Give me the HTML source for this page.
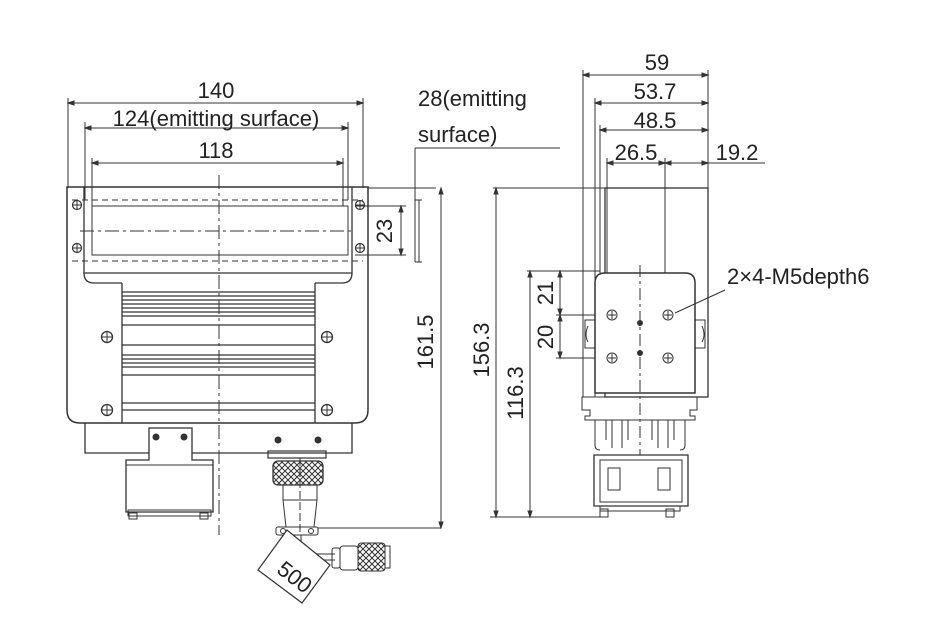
<!DOCTYPE html>
<html><head><meta charset="utf-8"><style>
html,body{margin:0;padding:0;background:#fff;}
svg{display:block}
text{font-family:"Liberation Sans",Arial,sans-serif;fill:#222;}
</style></head><body>
<svg width="948" height="639" viewBox="0 0 948 639" xmlns="http://www.w3.org/2000/svg">
<defs>
<pattern id="kn" width="6" height="6" patternUnits="userSpaceOnUse">
<rect width="6" height="6" fill="#fff"/><path d="M0 0L6 6M6 0L0 6" stroke="#333" stroke-width="1"/>
</pattern>
<g id="scr"><circle r="5.5" fill="#fff" stroke="#333" stroke-width="1.3"/><path d="M-5.5 0H5.5M0 -5.5V5.5" stroke="#333" stroke-width="1"/></g>
<g id="scs"><circle r="4.5" fill="#fff" stroke="#333" stroke-width="1.2"/><path d="M-4.5 0H4.5M0 -4.5V4.5" stroke="#333" stroke-width="1"/></g>
</defs>
<g fill="none" stroke="#333" stroke-width="1">
<!-- top dimensions left view -->
<path d="M68 103H363M85 128H348M92 163H343"/>
<path d="M68 98V188M363 98V188M85 122V200M348 122V200M92 158V206M343 158V206"/>
<path d="M68 103l6 -2v4zM363 103l-6 -2v4zM85 128l6 -2v4zM348 128l-6 -2v4zM92 163l6 -2v4zM343 163l-6 -2v4z" fill="#333"/>
<!-- 28 leader -->
<path d="M415 148H560M415 148V262"/>
<!-- left view body -->
<path d="M67 187H368V410q0 13 -13 13H80q-13 0 -13 -13Z" stroke-width="1.5"/>
<path d="M84 187V273H352V187" stroke-width="1.3"/>
<path d="M122 283V423M315 283V423M84 273q0 10 10 10H122M352 273q0 10 -10 10H315" stroke-width="1.3"/>
<path d="M72 200H363M72 261H363" stroke-dasharray="6 4"/>
<rect x="92" y="206" width="256" height="49"/>
<path d="M80 231H355" stroke-dasharray="14 4 3 4"/>
<path d="M219 175V535" stroke-dasharray="14 4 3 4"/>
<!-- fins -->
<g stroke-width="1.2">
<path d="M122 292H315M122 296H315M122 300H315M122 304H315M122 308H315M122 312H315M122 316H315"/>
<path d="M122 325H315M122 345H315M122 355H315M122 359H315M122 363H315M122 367H315M122 375H315M122 403H315M122 410H315"/>
</g>
<!-- screws -->
<use href="#scs" x="77" y="205"/><use href="#scs" x="77" y="248"/><use href="#scs" x="360" y="205"/><use href="#scs" x="360" y="248"/>
<use href="#scr" x="107" y="337"/><use href="#scr" x="327" y="337"/><use href="#scr" x="107" y="410"/><use href="#scr" x="327" y="410"/>
<!-- base plate -->
<path d="M85 423V453H352V423" stroke-width="1.3"/>
<!-- bracket -->
<path d="M149 428H192V460H213V512H126V460H149Z" fill="#fff" stroke-width="1.3"/>
<path d="M126 465H213" />
<circle cx="156" cy="437" r="3" fill="#333"/><circle cx="184" cy="437" r="3" fill="#333"/>
<rect x="128" y="510" width="83" height="6"/>
<rect x="129" y="513" width="8" height="6"/><rect x="200" y="513" width="8" height="6"/>
<!-- connector -->
<circle cx="278" cy="440" r="3" fill="#333"/><circle cx="318" cy="440" r="3" fill="#333"/>
<rect x="268" y="451" width="58" height="7" stroke-width="1.2"/>
<rect x="273" y="461" width="50" height="24" rx="5" fill="url(#kn)" stroke-width="1.3"/>
<path d="M283 485V500L286 527M317 485V500L314 527M283 500H317"/>
<path d="M300 458V535" stroke-dasharray="8 3"/>
<rect x="276" y="527" width="42" height="8" rx="2"/>
<circle cx="283" cy="531" r="2.5"/><circle cx="311" cy="531" r="2.5"/>
<path d="M318 528H441"/>
<!-- cable -->
<path d="M291 535V548q0 6 5 9l14 3H335M301 535V546q0 4 5 6l12 2H335"/>
<rect x="332" y="548" width="8" height="20" rx="2"/>
<rect x="340" y="546" width="18" height="24" rx="3"/>
<rect x="358" y="543" width="27" height="28" rx="3" fill="url(#kn)"/>
<rect x="385" y="546" width="5" height="22"/>
<!-- 500 label -->
<path d="M287 530L258 570L302 603L330 565Z" fill="#fff" stroke-width="1.2"/>
<!-- 161.5 -->
<path d="M368 188H436M441 188V528"/>
<path d="M441 188l-2 6h4zM441 528l-2 -6h4z" fill="#333"/>
<!-- 23 -->
<path d="M355 206H406M355 255H406M401 206V255M419 200V262M415 200H422M415 262H422"/>
<path d="M401 206l-2 6h4zM401 255l-2 -6h4z" fill="#333"/>

<!-- right view dimensions -->
<path d="M583 75H708M595 103H708M600 130H708M607 163H665M665 163H765"/>
<path d="M583 70V397M708 70V188M595 98V397M600 125V273M607 158V273M665 158V273"/>
<path d="M583 75l6 -2v4zM708 75l-6 -2v4zM595 103l6 -2v4zM708 103l-6 -2v4zM600 130l6 -2v4zM708 130l-6 -2v4zM607 163l6 -2v4zM665 163l-6 -2v4zM665 163l6 -2v4zM708 163l-6 -2v4z" fill="#333"/>
<!-- right view body -->
<rect x="605" y="188" width="103" height="209" stroke-width="1.3"/>
<path d="M493 188H605M496 188V517M527 271H600M530 271V517M490 517H600M556 315H610M556 358H610M560 271V358"/>
<path d="M496 188l-2 6h4zM496 517l-2 -6h4zM530 271l-2 6h4zM530 517l-2 -6h4zM560 271l-2 6h4zM560 315l-2 -6h4zM560 315l-2 6h4zM560 358l-2 -6h4z" fill="#333"/>
<path d="M595 393V283q0 -10 10 -10H685q10 0 10 10V393Z" fill="#fff" stroke-width="1.5"/>
<path d="M595 320h-10v28h10M695 320h10v28h-10"/>
<path d="M588 326q-4 9 0 16M702 326q4 9 0 16"/>
<circle cx="612" cy="315" r="5"/><circle cx="668" cy="315" r="5"/><circle cx="612" cy="358" r="5"/><circle cx="668" cy="358" r="5"/>
<path d="M608 315h8M612 311v8M664 315h8M668 311v8M608 358h8M612 354v8M664 358h8M668 354v8"/>
<circle cx="640" cy="323" r="2.5" fill="#333"/><circle cx="640" cy="353" r="2.5" fill="#333"/>
<path d="M640 265V455" stroke-dasharray="12 4 3 4"/>
<!-- rails -->
<path d="M582 397H697V410H690v6h5v4H585v-4h5v-6H582Z"/>
<path d="M595 420V445q0 5 5 5M685 420V445q0 5 -5 5"/>
<path d="M606 420V440M612 420V448M622 420V448M628 420V440M652 420V440M658 420V448M668 420V448M674 420V440"/>
<path d="M594 455H688V506H594Z" fill="#fff" stroke-width="1.3"/>
<path d="M600 460H682V502H600Z"/>
<rect x="608" y="468" width="12" height="22"/><rect x="658" y="468" width="12" height="22"/>
<rect x="600" y="506" width="80" height="5"/>
<rect x="600" y="509" width="8" height="8"/><rect x="666" y="509" width="8" height="8"/>
<path d="M725 290L675 313"/>
</g>
<!-- text -->
<g font-size="22">
<text x="216" y="98" text-anchor="middle">140</text>
<text x="216" y="126" text-anchor="middle">124(emitting surface)</text>
<text x="216" y="158" text-anchor="middle">118</text>
<text x="418" y="106">28(emitting</text>
<text x="418" y="142">surface)</text>
<text x="657" y="70" text-anchor="middle">59</text>
<text x="655" y="99" text-anchor="middle">53.7</text>
<text x="655" y="128" text-anchor="middle">48.5</text>
<text x="636" y="160" text-anchor="middle">26.5</text>
<text x="737" y="160" text-anchor="middle">19.2</text>
<text x="727" y="284">2×4-M5depth6</text>
<text transform="translate(433 342) rotate(-90)" text-anchor="middle">161.5</text>
<text transform="translate(392 231) rotate(-90)" text-anchor="middle">23</text>
<text transform="translate(489 350) rotate(-90)" text-anchor="middle">156.3</text>
<text transform="translate(523 393) rotate(-90)" text-anchor="middle">116.3</text>
<text transform="translate(553 293) rotate(-90)" text-anchor="middle">21</text>
<text transform="translate(553 337) rotate(-90)" text-anchor="middle">20</text>
<text transform="translate(290 583) rotate(38)" text-anchor="middle">500</text>
</g>
</svg>
</body></html>
